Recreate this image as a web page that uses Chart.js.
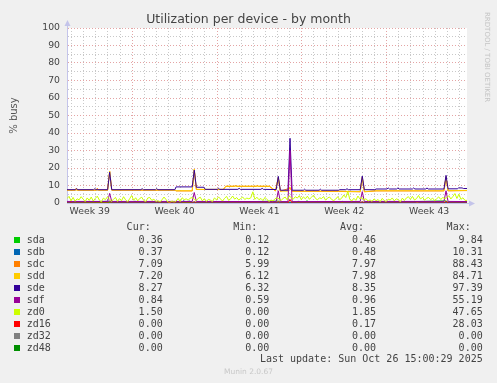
<!DOCTYPE html>
<html>
<head>
<meta charset="utf-8">
<script src="https://cdn.jsdelivr.net/npm/chart.js@4.4.1/dist/chart.umd.min.js"></script>
<style>
  body { margin: 0; background: #f0f0f0; }
  #wrap { position: relative; width: 497px; height: 383px; overflow: hidden; font-family: 'DejaVu Sans', sans-serif; }
  #chart { position: absolute; left: 0; top: 0; }
  #titulo { position: absolute; left: 0; width: 497px; top: 11px; text-align: center; font-size: 12.5px; color: #444; }
  #rrd { position: absolute; left: 483px; top: 12px; writing-mode: vertical-rl; font-size: 7px; color: #c4c4c4; white-space: nowrap; }
  .fila { position: absolute; left: 0; width: 497px; height: 12px; line-height: 12px; font-family: 'DejaVu Sans Mono', monospace; font-size: 10px; color: #444; }
  .fila span { position: absolute; white-space: pre; }
  .cuadro { position: absolute; left: 14px; top: 3px; width: 6px; height: 6px; }
  #munin { position: absolute; left: 0; width: 497px; top: 367px; text-align: center; font-size: 7.5px; color: #c8c8c8; }
</style>
</head>
<body>
<div id="wrap">
  <canvas id="chart" width="497" height="222"></canvas>
  <div id="titulo">Utilization per device - by month</div>
  <div id="rrd">RRDTOOL / TOBI OETIKER</div>
  <div id="leyenda"></div>
  <div id="munin">Munin 2.0.67</div>
</div>
<script>
// eje x en dias desde el inicio (mar 23 sep 15:00)
const semanas = ['Week 39', 'Week 40', 'Week 41', 'Week 42', 'Week 43'];
const semanaCentro = [1.875, 8.875, 15.875, 22.875, 29.875];
const lunes = [5.375, 12.375, 19.375, 26.375];
const medianoches = [0.375, 1.375, 2.375, 3.375, 4.375, 5.375, 6.375, 7.375, 8.375, 9.375, 10.375,
  11.375, 12.375, 13.375, 14.375, 15.375, 16.375, 17.375, 18.375, 19.375, 20.375, 21.375,
  22.375, 23.375, 24.375, 25.375, 26.375, 27.375, 28.375, 29.375, 30.375, 31.375, 32.375];

const dispositivos = ['sda', 'sdb', 'sdc', 'sdd', 'sde', 'sdf', 'zd0', 'zd16', 'zd32', 'zd48'];
const colores = ['#00cc00', '#0066b3', '#ff8000', '#ffcc00', '#330099', '#990099', '#ccff00', '#ff0000', '#808080', '#008f00'];
const cur = ['0.36', '0.37', '7.09', '7.20', '8.27', '0.84', '1.50', '0.00', '0.00', '0.00'];
const min = ['0.12', '0.12', '5.99', '6.12', '6.32', '0.59', '0.00', '0.00', '0.00', '0.00'];
const avg = ['0.46', '0.48', '7.97', '7.98', '8.35', '0.96', '1.85', '0.17', '0.00', '0.00'];
const max = ['9.84', '10.31', '88.43', '84.71', '97.39', '55.19', '47.65', '28.03', '0.00', '0.00'];

// [dia, valor]
const sdaPts = [[0,0.4],[5.5,0.4],[5.6,1.2],[5.7,0.4],[12.2,0.4],[12.3,1.0],[12.4,0.4],[17.43,1.1],[17.6,0.4],
  [19.7,0.4],[19.8,1.4],[19.9,0.4],[25.9,0.4],[26.0,0.9],[26.1,0.4],[31.27,1.2],[31.44,0.4],[33,0.36]];
const sdbPts = [[0,0.4],[3.52,1.0],[3.69,0.4],[9.5,0.4],[9.6,1.3],[9.8,0.5],[10.1,1.1],[10.3,0.4],[19.0,0.4],
  [19.1,1.2],[19.2,0.4],[22.6,0.4],[22.7,1.0],[22.8,0.4],[28.8,0.4],[28.9,1.1],[29.0,0.4],[33,0.37]];
const sdcPts = [[0,7.3],[0.65,7.3],[0.75,8.3],[0.85,7.3],[2.4,7.3],[2.5,8.4],[2.6,7.3],[3.35,7.3],[3.52,18.0],
  [3.69,7.3],[8.9,7.3],[9.0,6.9],[10.33,6.9],[10.5,19.0],[10.67,7.7],[12.9,7.7],[13.1,9.5],[13.8,9.5],
  [13.9,10.0],[14.0,9.5],[15.6,9.5],[15.7,10.0],[15.8,9.5],[16.7,9.5],[17.2,6.9],[17.43,14.4],[17.6,6.7],
  [18.4,8.5],[18.57,6.7],[22.4,6.6],[24.19,6.4],[24.36,14.6],[24.53,6.4],[25.5,6.9],[31.1,6.9],[31.27,14.9],
  [31.44,6.9],[33,7.09]];
const sddPts = [[0,7.4],[3.35,7.4],[3.52,18.3],[3.69,7.4],[8.9,7.4],[9.0,7.0],[10.33,7.0],[10.5,19.4],[10.67,7.8],
  [12.9,7.8],[13.1,9.6],[16.7,9.6],[17.2,7.0],[17.43,14.6],[17.6,6.8],[18.23,6.8],[18.4,9.0],[18.57,6.8],
  [22.4,6.8],[24.19,6.5],[24.36,14.8],[24.53,6.5],[25.5,7.0],[31.1,7.0],[31.27,15.0],[31.44,7.1],[33,7.2]];
const sdePts = [[0,7.6],[0.7,7.6],[0.8,8.2],[0.9,7.6],[2.2,7.6],[2.3,8.2],[2.4,7.6],[3.35,7.6],[3.52,17.6],
  [3.69,7.6],[6.1,7.6],[6.2,8.2],[6.3,7.6],[7.3,7.6],[7.4,8.2],[7.5,7.6],[8.9,7.6],[9.0,9.2],[10.33,9.2],
  [10.5,18.8],[10.67,9.0],[11.3,9.0],[11.4,7.8],[12.4,7.8],[12.5,8.4],[12.6,7.8],[14.1,7.8],[14.2,8.4],
  [14.3,7.8],[16.0,7.8],[16.1,8.4],[16.2,7.8],[17.26,7.7],[17.43,15.2],[17.6,7.3],[18.23,7.3],[18.4,37],
  [18.57,7.3],[19.5,7.3],[19.6,7.9],[19.7,7.3],[20.8,7.3],[20.9,7.9],[21.0,7.3],[22.4,7.3],[22.5,7.6],
  [23.0,7.6],[23.1,8.2],[23.2,7.6],[24.19,7.6],[24.36,15.4],[24.53,7.6],[25.4,7.6],[25.5,8.0],[26.4,8.0],
  [26.5,8.6],[26.6,8.0],[27.2,8.0],[27.3,8.6],[27.4,8.0],[28.5,8.0],[28.6,8.6],[28.7,8.0],[29.6,8.0],
  [29.7,8.6],[29.8,8.0],[31.1,8.0],[31.27,15.8],[31.44,8.1],[32.2,8.1],[32.3,8.6],[32.6,8.6],[32.7,8.3],[33,8.27]];
const sdfPts = [[0,0.9],[3.35,0.9],[3.52,5.5],[3.69,0.9],[10.33,0.9],[10.5,6.0],[10.67,0.9],[17.26,0.8],
  [17.43,7.0],[17.6,0.8],[18.23,0.8],[18.4,30],[18.57,0.8],[24.19,0.9],[24.36,6.5],[24.53,0.9],[31.1,0.9],
  [31.27,7.0],[31.44,0.9],[33,0.84]];
const zd16Pts = [[0,0],[0.2,0],[0.3,0.5],[0.4,0],[3.35,0],[3.52,1.0],[3.69,0],[10.33,0],[10.5,0.8],[10.67,0],
  [17.26,0],[17.43,0.9],[17.6,0],[18.23,0],[18.4,2.0],[18.57,0],[24.19,0],[24.36,0.8],[24.53,0],[31.1,0],
  [31.27,1.0],[31.44,0],[33,0]];
const zd32Pts = [[0,0],[33,0]];
const zd48Pts = [[0,0],[33,0]];
// zd0 cada 4 horas
const zd0Vals = [
  2.5, 3.8, 1.2, 3.2, 1.0, 2.4,  1.8, 3.6, 2.2, 0.8, 2.9, 1.5,  3.4, 1.1, 2.6, 3.9, 1.7, 0.6,
  2.8, 1.9, 3.5, 2.4, 1.0, 2.1,  3.2, 0.9, 2.5, 1.3, 3.6, 1.8,  0.7, 2.4, 4.3, 1.6, 3.0, 1.2,
  2.6, 3.3, 1.4, 0.8, 2.9, 3.1,  1.5, 2.2, 0.9, 1.3, 0.6, 1.8,  3.4, 2.0, 0.5, 0.3, 1.2, 0.4,
  1.1, 2.6, 0.8, 3.0, 1.9, 2.4,  1.6, 2.8, 3.1, 2.2, 1.4, 2.7,  3.3, 1.2, 2.5, 0.9, 2.1, 1.6,
  0.8, 2.9, 1.8, 3.5, 2.3, 1.1,  2.7, 3.8, 1.5, 2.4, 4.0, 2.2,  3.1, 1.7, 2.6, 3.4, 2.0, 2.8,
  2.4, 3.0, 6.4, 2.1, 3.3, 1.9,  2.6, 1.4, 3.2, 2.0, 0.9, 1.7,  1.2, 2.5, 3.0, 2.3, 1.5, 2.6,
  3.4, 1.8, 4.1, 3.0, 2.2, 3.6,  2.8, 4.2, 1.9, 3.5, 2.4, 3.9,  2.1, 3.3, 4.5, 2.6, 1.8, 3.0,
  2.5, 3.7, 1.6, 2.9, 3.4, 2.0,  1.4, 2.2, 3.6, 1.9, 2.8, 4.6,  3.1, 6.6, 2.0, 1.2, 2.7, 1.5,
  4.0, 2.3, 3.2, 1.6, 2.5, 1.1,  1.8, 0.9, 2.4, 1.3, 2.0, 0.7,  2.6, 1.5, 0.8, 2.2, 1.7, 2.9,
  1.2, 2.4, 1.9, 0.6, 2.8, 1.4,  2.9, 3.6, 2.1, 3.8, 1.7, 2.5,  4.3, 2.2, 3.4, 1.6, 2.7, 3.2,
  1.9, 2.8, 1.3, 2.4, 3.5, 2.0,  3.1, 2.6, 3.0, 4.2, 2.3, 3.7,  5.4, 2.6, 5.0, 2.1, 3.0, 1.5,
  1.5
];

const rojo = '#e4a4a4';
const gris = '#c8c8c8';
const ejeColor = '#c4c4ea';

function aPuntos(pts) {
  return pts.map(p => ({ x: p[0], y: p[1] }));
}

const series = {
  sda: aPuntos(sdaPts), sdb: aPuntos(sdbPts), sdc: aPuntos(sdcPts), sdd: aPuntos(sddPts),
  sde: aPuntos(sdePts), sdf: aPuntos(sdfPts), zd0: zd0Vals.map((v, i) => ({ x: i / 6, y: v })),
  zd16: aPuntos(zd16Pts), zd32: aPuntos(zd32Pts), zd48: aPuntos(zd48Pts)
};
// orden de dibujo como munin (el ultimo encima), zd32/zd48 debajo de todo
const ordenes = { sda: 9, sdb: 8, sdc: 7, sdd: 6, sde: 5, sdf: 4, zd0: 3, zd16: 2, zd32: 20, zd48: 19 };

const esLunes = v => lunes.some(l => Math.abs(l - v) < 0.01);
const esCentro = v => semanaCentro.findIndex(c => Math.abs(c - v) < 0.01);

const fondoPlot = {
  id: 'fondoPlot',
  beforeDraw(chart) {
    const a = chart.chartArea;
    chart.ctx.save();
    chart.ctx.fillStyle = '#ffffff';
    chart.ctx.fillRect(a.left, a.top, a.right - a.left, a.bottom - a.top);
    chart.ctx.restore();
  },
  afterDraw(chart) {
    // flechas de los ejes
    const a = chart.chartArea;
    const ctx = chart.ctx;
    ctx.save();
    ctx.strokeStyle = ejeColor;
    ctx.fillStyle = ejeColor;
    ctx.lineWidth = 1;
    ctx.beginPath();
    ctx.moveTo(a.left + 0.5, a.top);
    ctx.lineTo(a.left + 0.5, a.top - 3);
    ctx.moveTo(a.right, a.bottom + 0.5);
    ctx.lineTo(a.right + 3, a.bottom + 0.5);
    ctx.stroke();
    ctx.beginPath();
    ctx.moveTo(a.left + 0.5, a.top - 8);
    ctx.lineTo(a.left - 2.5, a.top - 2);
    ctx.lineTo(a.left + 3.5, a.top - 2);
    ctx.closePath();
    ctx.fill();
    ctx.beginPath();
    ctx.moveTo(a.right + 8, a.bottom + 0.5);
    ctx.lineTo(a.right + 2, a.bottom - 2.5);
    ctx.lineTo(a.right + 2, a.bottom + 3.5);
    ctx.closePath();
    ctx.fill();
    ctx.restore();
  }
};

new Chart(document.getElementById('chart'), {
  type: 'line',
  data: {
    datasets: dispositivos.map((d, i) => ({
      label: d,
      data: series[d],
      borderColor: colores[i],
      backgroundColor: colores[i],
      borderWidth: 1,
      pointRadius: 0,
      tension: 0,
      fill: false,
      order: ordenes[d]
    }))
  },
  options: {
    responsive: false,
    animation: false,
    layout: { padding: { top: 28, right: 30, left: 0, bottom: 0 } },
    plugins: { legend: { display: false }, tooltip: { enabled: false } },
    scales: {
      x: {
        type: 'linear',
        min: 0,
        max: 33,
        afterBuildTicks: function (s) {
          const vals = medianoches.concat(semanaCentro).sort((a, b) => a - b);
          s.ticks = vals.map(v => ({ value: v }));
        },
        afterFit: function (s) { s.height = 19; },
        ticks: {
          autoSkip: false,
          maxRotation: 0,
          padding: 3,
          color: '#444',
          font: { family: 'DejaVu Sans', size: 9.3 },
          callback: function (v) {
            const i = esCentro(v);
            return i >= 0 ? semanas[i] : '';
          }
        },
        grid: {
          drawTicks: false,
          color: function (c) {
            const v = c.tick ? c.tick.value : 0;
            if (esCentro(v) >= 0) return 'rgba(0,0,0,0)';
            return esLunes(v) ? rojo : gris;
          }
        },
        border: { color: ejeColor, dash: [1, 2] }
      },
      y: {
        min: 0,
        max: 100,
        afterFit: function (s) { s.width = 67; },
        ticks: {
          stepSize: 5,
          autoSkip: false,
          padding: 7,
          color: '#444',
          font: { family: 'DejaVu Sans', size: 9.3 },
          callback: v => (v % 10 === 0 ? v : '')
        },
        grid: {
          drawTicks: false,
          color: c => (c.tick && c.tick.value % 10 === 0 ? rojo : gris)
        },
        border: { color: ejeColor, dash: [1, 2] },
        title: {
          display: true,
          text: '% busy',
          color: '#555',
          font: { family: 'DejaVu Sans', size: 10 },
          padding: { top: 8, bottom: 0 }
        }
      }
    }
  },
  plugins: [fondoPlot]
});

// leyenda estilo munin
const $ley = document.getElementById('leyenda');
function fila(top, html) {
  const div = document.createElement('div');
  div.className = 'fila';
  div.style.top = top + 'px';
  div.innerHTML = html;
  $ley.appendChild(div);
}
const derechas = [162.7, 269.3, 376, 482.7];
const cabeceras = ['Cur:', 'Min:', 'Avg:', 'Max:'];
fila(221, cabeceras.map((t, j) => `<span style="right:${497 - derechas[j] + 12}px">${t}</span>`).join(''));
dispositivos.forEach((d, i) => {
  const vals = [cur[i], min[i], avg[i], max[i]];
  fila(234 + i * 12,
    `<div class="cuadro" style="background:${colores[i]}"></div>` +
    `<span style="left:26.7px">${d}</span>` +
    vals.map((v, j) => `<span style="right:${497 - derechas[j]}px">${v}</span>`).join(''));
});
fila(353, `<span style="right:${497 - 482.7}px">Last update: Sun Oct 26 15:00:29 2025</span>`);
</script>
</body>
</html>
